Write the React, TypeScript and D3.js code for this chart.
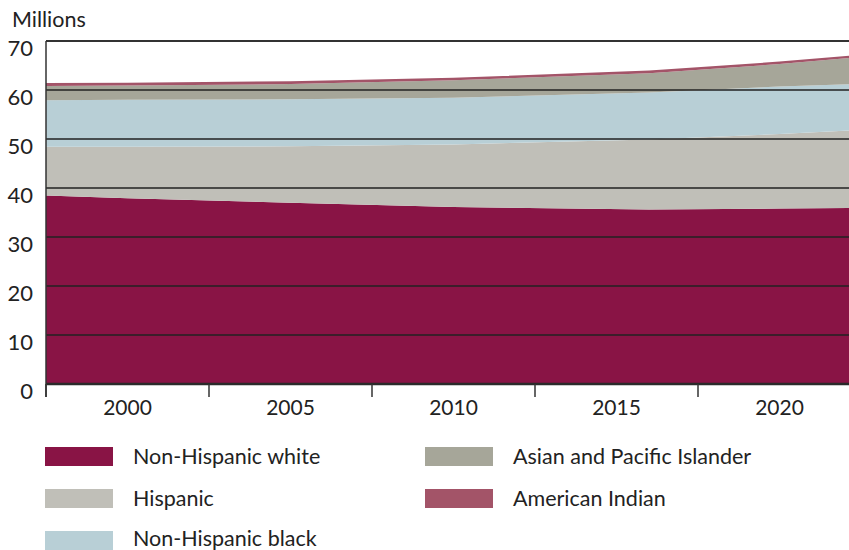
import React from "react";
import * as d3 from "d3";

const years = [1997, 2000, 2005, 2010, 2016, 2020, 2023];
const nonHispanicWhite = [38.6, 37.9, 37.0, 36.1, 35.6, 35.8, 36.0];
const hispanic = [9.8, 10.5, 11.5, 12.8, 14.3, 15.2, 16.0];
const nonHispanicBlack = [9.5, 9.6, 9.6, 9.5, 9.6, 9.7, 9.4];
const asianPacific = [2.9, 2.9, 3.1, 3.6, 3.9, 4.6, 5.6];
const americanIndian = [0.6, 0.6, 0.6, 0.5, 0.6, 0.5, 0.5];

const seriesNames = [
  "Non-Hispanic white",
  "Hispanic",
  "Non-Hispanic black",
  "Asian and Pacific Islander",
  "American Indian",
];
const seriesColors = ["#891445", "#C0BFB8", "#B8CFD6", "#A6A699", "#A35468"];
const yTicks = [0, 10, 20, 30, 40, 50, 60, 70];
const xLabels = [2000, 2005, 2010, 2015, 2020];
const xBandEdges = [1997.5, 2002.5, 2007.5, 2012.5, 2017.5];

const W = 849;
const H = 550;
const left = 46;
const right = 849;
const top = 41;
const bottom = 384;
const FONT = "Lato, 'Open Sans', sans-serif";

export default function App() {
  const x = d3.scaleLinear().domain([1997.5, 2022.5]).range([left, left + 163 * 5]);
  const y = d3.scaleLinear().domain([0, 70]).range([bottom, top]);

  const rows = years.map((yr, i) => ({
    year: yr,
    s0: nonHispanicWhite[i],
    s1: hispanic[i],
    s2: nonHispanicBlack[i],
    s3: asianPacific[i],
    s4: americanIndian[i],
  }));
  const stack = d3.stack<any>().keys(["s0", "s1", "s2", "s3", "s4"]);
  const layers = stack(rows);
  const area = d3
    .area<any>()
    .x((d) => x(d.data.year))
    .y0((d) => y(d[0]))
    .y1((d) => y(d[1]));

  const legendItems = [
    { i: 0, lx: 45, ly: 447, ty: 16.5 },
    { i: 1, lx: 45, ly: 489, ty: 16.5 },
    { i: 2, lx: 45, ly: 531, ty: 14.5 },
    { i: 3, lx: 425, ly: 447, ty: 16.5 },
    { i: 4, lx: 425, ly: 489, ty: 16.5 },
  ];

  return (
    <svg
      width={W}
      height={H}
      style={{ position: "absolute", left: 0, top: 0, display: "block" }}
      fontFamily={FONT}
    >
      <defs>
        <clipPath id="plotclip">
          <rect x={left} y={top} width={right - left} height={bottom - top} />
        </clipPath>
      </defs>
      <rect x={0} y={0} width={W} height={H} fill="#fff" />
      <g clipPath="url(#plotclip)">
        {layers.map((layer, k) => (
          <path key={k} d={area(layer as any) || ""} fill={seriesColors[k]} />
        ))}
      </g>
      {yTicks
        .filter((t) => t > 0 && t < 70)
        .map((t) => (
          <line key={t} x1={left} x2={right} y1={y(t)} y2={y(t)} stroke="#222" strokeWidth={1.3} />
        ))}
      <line x1={left} x2={right} y1={y(70)} y2={y(70)} stroke="#333" strokeWidth={2} />
      <line x1={left} x2={right} y1={bottom} y2={bottom} stroke="#2a2a2a" strokeWidth={2.5} />
      <line x1={left} x2={left} y1={top} y2={397} stroke="#333" strokeWidth={1.5} />
      {xBandEdges.map((e) => (
        <line key={e} x1={x(e)} x2={x(e)} y1={bottom} y2={397} stroke="#333" strokeWidth={1.5} />
      ))}
      {yTicks.map((t) => (
        <text key={t} x={33} y={y(t) + 15} textAnchor="end" fontSize={22} fill="#222">
          {t}
        </text>
      ))}
      {xLabels.map((l) => (
        <text key={l} x={x(l)} y={415} textAnchor="middle" fontSize={21} fill="#222">
          {l}
        </text>
      ))}
      <text x={12} y={27} fontSize={21.5} fill="#222">
        Millions
      </text>
      {legendItems.map(({ i, lx, ly, ty }) => (
        <g key={i}>
          <rect x={lx} y={ly} width={68} height={19} fill={seriesColors[i]} />
          <text x={lx + 88} y={ly + ty} fontSize={21.5} fill="#222">
            {seriesNames[i]}
          </text>
        </g>
      ))}
    </svg>
  );
}
